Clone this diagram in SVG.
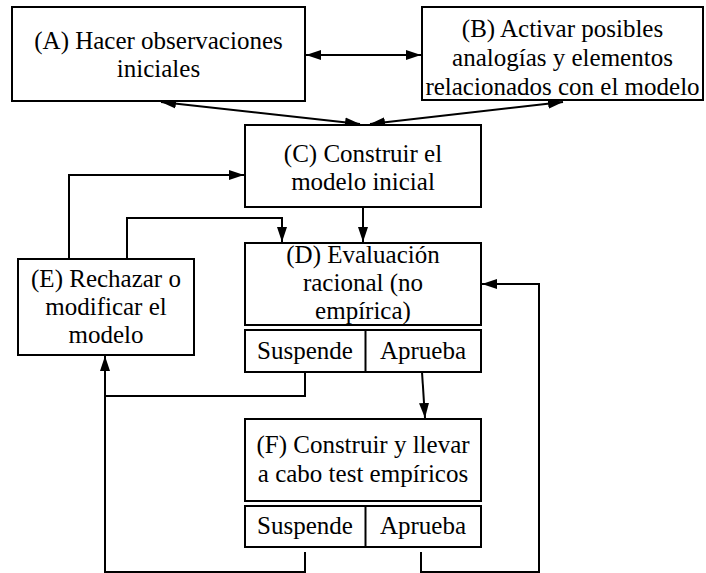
<svg xmlns="http://www.w3.org/2000/svg" width="706" height="573" viewBox="0 0 706 573">
  <style>
    .box { fill: #ffffff; stroke: #000000; stroke-width: 2; }
    .lbl { font-family: "Liberation Serif", "Times New Roman", serif; font-size: 25px; fill: #000000; text-anchor: middle; }
    .wire { fill: none; stroke: #000000; stroke-width: 2; }
    .arr { marker-end: url(#head); }
    .both { marker-start: url(#head); marker-end: url(#head); }
  </style>
  <defs>
    <marker id="head" viewBox="0 0 15 10" refX="15" refY="5" markerWidth="15" markerHeight="10" markerUnits="userSpaceOnUse" orient="auto-start-reverse">
      <path d="M0,0 L15,5 L0,10 Z" fill="#000000"/>
    </marker>
  </defs>

  <rect width="706" height="573" fill="#ffffff"/>

  <!-- connectors -->
  <g id="connectors">
    <!-- A <-> B -->
    <line class="wire both" x1="306" y1="55" x2="421" y2="55"/>
    <!-- A <-> C, B <-> C -->
    <line class="wire both" x1="161" y1="102" x2="360" y2="124"/>
    <line class="wire both" x1="563" y1="102" x2="370" y2="124"/>
    <!-- C -> D -->
    <line class="wire arr" x1="363" y1="207" x2="363" y2="242"/>
    <!-- E -> C -->
    <polyline class="wire arr" points="69,259 69,175 244,175"/>
    <!-- E -> D -->
    <polyline class="wire arr" points="127,259 127,218 282,218 282,242"/>
    <!-- D fails -> E -->
    <polyline class="wire arr" points="305,372 305,396 105,396 105,356"/>
    <!-- F fails -> E -->
    <polyline class="wire" points="305,552 305,572 105,572 105,396"/>
    <!-- D passes -> F -->
    <line class="wire arr" x1="422" y1="372" x2="425" y2="418"/>
    <!-- F passes -> D -->
    <polyline class="wire arr" points="421,552 421,572 539,572 539,284 482,284"/>
  </g>

  <g id="nodeA">
    <rect class="box" x="12" y="7" width="293" height="94"/>
    <text class="lbl" x="158.5" y="49">(A) Hacer observaciones</text>
    <text class="lbl" x="158.5" y="77">iniciales</text>
  </g>

  <g id="nodeB">
    <rect class="box" x="422" y="7" width="281" height="93"/>
    <text class="lbl" x="562.5" y="37">(B) Activar posibles</text>
    <text class="lbl" x="562.5" y="66">analogías y elementos</text>
    <text class="lbl" x="562.5" y="95">relacionados con el modelo</text>
  </g>

  <g id="nodeC">
    <rect class="box" x="245" y="125" width="236" height="82"/>
    <text class="lbl" x="363" y="162">(C) Construir el</text>
    <text class="lbl" x="363" y="190">modelo inicial</text>
  </g>

  <g id="nodeD">
    <rect class="box" x="245" y="243" width="236" height="82"/>
    <text class="lbl" x="363" y="263">(D) Evaluación</text>
    <text class="lbl" x="363" y="291">racional (no</text>
    <text class="lbl" x="363" y="319">empírica)</text>
    <rect class="box" x="245" y="330" width="236" height="42"/>
    <line class="wire" x1="365.5" y1="330" x2="365.5" y2="372"/>
    <text class="lbl" x="305" y="359">Suspende</text>
    <text class="lbl" x="423" y="359">Aprueba</text>
  </g>

  <g id="nodeE">
    <rect class="box" x="18" y="259" width="176" height="96"/>
    <text class="lbl" x="106" y="287">(E) Rechazar o</text>
    <text class="lbl" x="106" y="315">modificar el</text>
    <text class="lbl" x="106" y="343">modelo</text>
  </g>

  <g id="nodeF">
    <rect class="box" x="245" y="419" width="236" height="82"/>
    <text class="lbl" x="363" y="453">(F) Construir y llevar</text>
    <text class="lbl" x="363" y="482">a cabo test empíricos</text>
    <rect class="box" x="245" y="506" width="236" height="41"/>
    <line class="wire" x1="365.5" y1="506" x2="365.5" y2="547"/>
    <text class="lbl" x="305" y="534">Suspende</text>
    <text class="lbl" x="423" y="534">Aprueba</text>
  </g>
</svg>
